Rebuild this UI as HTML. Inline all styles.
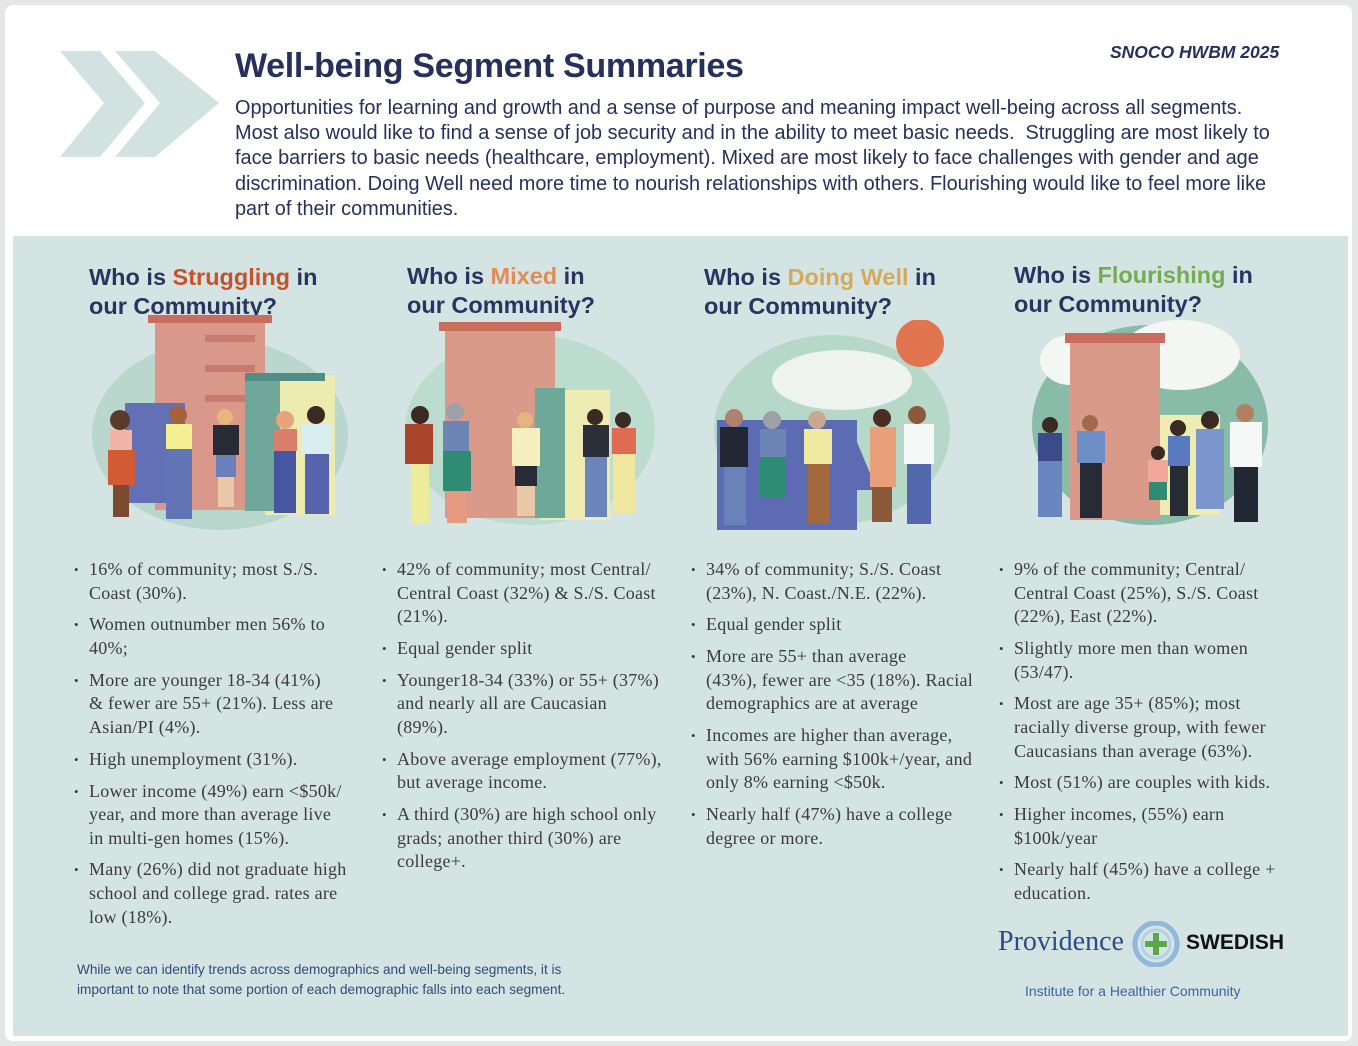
<!DOCTYPE html>
<html><head><meta charset="utf-8"><style>
*{margin:0;padding:0;box-sizing:border-box}
body{width:1358px;height:1046px;background:#e3e8e7;position:relative;overflow:hidden;font-family:"Liberation Sans",sans-serif}
.card{position:absolute;left:5px;top:5px;width:1347px;height:1036px;background:#fff;border-radius:8px}
.panel{position:absolute;left:13px;top:236px;width:1335px;height:800px;background:#d4e4e2}
.t{position:absolute;white-space:nowrap}
h1{position:absolute;left:235px;top:47px;font-size:34px;font-weight:bold;color:#25305e;letter-spacing:-0.3px}
.intro{position:absolute;left:235px;top:96px;font-size:19.9px;line-height:25.2px;color:#25305e;white-space:nowrap}
.snoco{position:absolute;left:1110px;top:42px;font-size:17.5px;font-weight:bold;font-style:italic;color:#25305e}
.h{position:absolute;font-size:23.5px;font-weight:bold;color:#2b3360;line-height:28.5px;white-space:nowrap}
ul{position:absolute;list-style:none;font-family:"Liberation Serif",serif;font-size:18px;letter-spacing:0.25px;line-height:23.6px;color:#3b3b3b}
li{position:relative;margin-bottom:8.2px;white-space:nowrap}
li:before{content:"•";position:absolute;left:-15px;font-size:13px}
.ill{position:absolute}
.foot{position:absolute;left:77px;top:960px;font-size:13.6px;line-height:20px;color:#2f4a7e;white-space:nowrap}
</style></head><body>
<div class="card"></div>
<svg style="position:absolute;left:0;top:0" width="240" height="170">
<polygon points="60,51 100,51 145,103 100,157 60,157 104,103" fill="#d2e2e1"/>
<polygon points="115,51 155,51 219,103 155,157 115,157 160,103" fill="#d2e2e1"/>
</svg>
<h1>Well-being Segment Summaries</h1>
<div class="snoco">SNOCO HWBM 2025</div>
<div class="intro">Opportunities for learning and growth and a sense of purpose and meaning impact well-being across all segments.<br>Most also would like to find a sense of job security and in the ability to meet basic needs.&nbsp; Struggling are most likely to<br>face barriers to basic needs (healthcare, employment). Mixed are most likely to face challenges with gender and age<br>discrimination. Doing Well need more time to nourish relationships with others. Flourishing would like to feel more like<br>part of their communities.</div>
<div class="panel"></div>

<div class="h" style="left:89px;top:263px">Who is <span style="color:#c9502c">Struggling</span> in<br>our Community?</div>
<div class="h" style="left:407px;top:262px">Who is <span style="color:#e58a5a">Mixed</span> in<br>our Community?</div>
<div class="h" style="left:704px;top:263px">Who is <span style="color:#d6a95b">Doing Well</span> in<br>our Community?</div>
<div class="h" style="left:1014px;top:261px">Who is <span style="color:#74ac55">Flourishing</span> in<br>our Community?</div>

<svg class="ill" style="left:80px;top:315px" width="280" height="220">
<ellipse cx="140" cy="120" rx="128" ry="95" fill="#b9d7cc"/>
<rect x="75" y="5" width="110" height="190" fill="#d9988a"/><rect x="68" y="0" width="124" height="8" fill="#c96e5e"/>
<rect x="125" y="20" width="50" height="7" fill="#c77b6c"/><rect x="125" y="50" width="50" height="7" fill="#c77b6c"/><rect x="125" y="80" width="50" height="7" fill="#c77b6c"/>
<rect x="185" y="60" width="70" height="140" fill="#ecebb0"/><rect x="165" y="58" width="80" height="8" fill="#4f8d86"/><rect x="165" y="66" width="35" height="130" fill="#6fa89b"/>
<rect x="45" y="88" width="60" height="100" fill="#6470b5"/>
<g><circle cx="40" cy="105" r="10" fill="#5a3a2a"/><rect x="30" y="115" width="22" height="22" fill="#f0b5a6"/><rect x="28" y="135" width="27" height="35" fill="#d25b33"/><rect x="33" y="170" width="16" height="32" fill="#7a4a30"/></g>
<g><circle cx="98" cy="100" r="9" fill="#a5623c"/><rect x="86" y="109" width="26" height="25" fill="#f4ef92"/><rect x="86" y="134" width="26" height="70" fill="#6175b6"/></g>
<g><circle cx="145" cy="102" r="8" fill="#e7b780"/><rect x="133" y="110" width="26" height="30" fill="#262b36"/><rect x="136" y="140" width="20" height="22" fill="#6b7fb9"/><rect x="138" y="162" width="16" height="30" fill="#eac7a7"/></g>
<g><circle cx="205" cy="105" r="9" fill="#e7a37a"/><rect x="193" y="114" width="24" height="22" fill="#d97d6c"/><rect x="194" y="136" width="22" height="62" fill="#4756a3"/></g>
<g><circle cx="236" cy="100" r="9" fill="#3b2a22"/><rect x="222" y="109" width="30" height="30" fill="#d9eef0"/><rect x="225" y="139" width="24" height="60" fill="#5564ac"/></g>
</svg>
<svg class="ill" style="left:395px;top:320px" width="265" height="215">
<ellipse cx="135" cy="110" rx="125" ry="95" fill="#bcdcd0"/>
<rect x="50" y="8" width="110" height="190" fill="#d99a8a"/><rect x="44" y="2" width="122" height="9" fill="#c96e5e"/>
<rect x="145" y="70" width="70" height="130" fill="#eeebb3"/><rect x="140" y="68" width="30" height="130" fill="#6ea898"/>
<g><circle cx="25" cy="95" r="9" fill="#3a2a22"/><rect x="10" y="104" width="28" height="40" fill="#a8442c"/><rect x="16" y="144" width="18" height="60" fill="#ecec9a"/></g>
<g><circle cx="60" cy="92" r="9" fill="#a0a0a8"/><rect x="48" y="101" width="26" height="30" fill="#6c84b4"/><rect x="48" y="131" width="28" height="40" fill="#2e8b74"/><rect x="52" y="171" width="20" height="32" fill="#e79a82"/></g>
<g><circle cx="130" cy="100" r="8" fill="#e3b580"/><rect x="117" y="108" width="28" height="38" fill="#f6f0c0"/><rect x="120" y="146" width="22" height="20" fill="#262b36"/><rect x="122" y="166" width="18" height="30" fill="#e9c8aa"/></g>
<g><circle cx="200" cy="97" r="8" fill="#3a2a22"/><rect x="188" y="105" width="26" height="32" fill="#2a2f3a"/><rect x="190" y="137" width="22" height="60" fill="#6b84bd"/></g>
<g><circle cx="228" cy="100" r="8" fill="#3a2a22"/><rect x="217" y="108" width="24" height="26" fill="#e06b55"/><rect x="218" y="134" width="22" height="60" fill="#f0e6a0"/></g>
</svg>
<svg class="ill" style="left:712px;top:320px" width="240" height="215">
<ellipse cx="120" cy="110" rx="118" ry="95" fill="#b6d8c8"/>
<ellipse cx="130" cy="60" rx="70" ry="30" fill="#eef3ef"/>
<circle cx="208" cy="23" r="24" fill="#e1754f"/>
<rect x="5" y="100" width="140" height="110" fill="#5c6bb2"/><polygon points="100,110 140,110 165,170 100,170" fill="#5c6bb2"/>
<g><circle cx="22" cy="98" r="9" fill="#b08070"/><rect x="8" y="107" width="28" height="40" fill="#222833"/><rect x="12" y="147" width="22" height="58" fill="#6982ba"/></g>
<g><circle cx="60" cy="100" r="9" fill="#a0a0a8"/><rect x="48" y="109" width="26" height="28" fill="#6c84b4"/><rect x="48" y="137" width="26" height="40" fill="#2e8b74"/></g>
<g><circle cx="105" cy="100" r="9" fill="#c8a890"/><rect x="92" y="109" width="28" height="35" fill="#f0e9a0"/><rect x="96" y="144" width="22" height="60" fill="#a3683c"/></g>
<g><circle cx="170" cy="98" r="9" fill="#4a2d20"/><rect x="158" y="107" width="26" height="60" fill="#e9a07a"/><rect x="160" y="167" width="20" height="35" fill="#8a5a3a"/></g>
<g><circle cx="205" cy="95" r="9" fill="#8a5a3a"/><rect x="192" y="104" width="30" height="40" fill="#f6f7f7"/><rect x="195" y="144" width="24" height="60" fill="#5468ad"/></g>
</svg>
<svg class="ill" style="left:1030px;top:315px" width="250" height="220">
<ellipse cx="120" cy="110" rx="118" ry="100" fill="#88bca8"/>
<ellipse cx="150" cy="40" rx="60" ry="35" fill="#f3f6f3"/><ellipse cx="40" cy="45" rx="30" ry="25" fill="#f3f6f3"/>
<rect x="40" y="25" width="90" height="180" fill="#d99a8a"/><rect x="35" y="18" width="100" height="10" fill="#c96e5e"/>
<rect x="130" y="100" width="60" height="100" fill="#eeebb3"/>
<g><circle cx="20" cy="110" r="8" fill="#3a2a22"/><rect x="8" y="118" width="24" height="28" fill="#3d4a8a"/><rect x="8" y="146" width="24" height="56" fill="#6a86c0"/></g>
<g><circle cx="60" cy="108" r="8" fill="#a06a4a"/><rect x="47" y="116" width="28" height="32" fill="#6e8ec8"/><rect x="50" y="148" width="22" height="55" fill="#262b36"/></g>
<g><circle cx="128" cy="138" r="7" fill="#3a2a22"/><rect x="118" y="145" width="20" height="22" fill="#f0a89a"/><rect x="119" y="167" width="18" height="18" fill="#2e8b74"/></g>
<g><circle cx="148" cy="113" r="8" fill="#3a2a22"/><rect x="138" y="121" width="22" height="30" fill="#5a7ac0"/><rect x="140" y="151" width="18" height="50" fill="#262b36"/></g>
<g><circle cx="180" cy="105" r="9" fill="#3a2a22"/><rect x="166" y="114" width="28" height="80" fill="#7a96cc"/></g>
<g><circle cx="215" cy="98" r="9" fill="#b08060"/><rect x="200" y="107" width="32" height="45" fill="#f6f7f7"/><rect x="204" y="152" width="24" height="55" fill="#222833"/></g>
</svg>

<ul style="left:89px;top:558px">
<li>16% of community; most S./S.<br>Coast (30%).</li>
<li>Women outnumber men 56% to<br>40%;</li>
<li>More are younger 18-34 (41%)<br>&amp; fewer are 55+ (21%). Less are<br>Asian/PI (4%).</li>
<li>High unemployment (31%).</li>
<li>Lower income (49%) earn &lt;$50k/<br>year, and more than average live<br>in multi-gen homes (15%).</li>
<li>Many (26%) did not graduate high<br>school and college grad. rates are<br>low (18%).</li>
</ul>
<ul style="left:397px;top:558px">
<li>42% of community; most Central/<br>Central Coast (32%) &amp; S./S. Coast<br>(21%).</li>
<li>Equal gender split</li>
<li>Younger18-34 (33%) or 55+ (37%)<br>and nearly all are Caucasian<br>(89%).</li>
<li>Above average employment (77%),<br>but average income.</li>
<li>A third (30%) are high school only<br>grads; another third (30%) are<br>college+.</li>
</ul>
<ul style="left:706px;top:558px">
<li>34% of community; S./S. Coast<br>(23%), N. Coast./N.E. (22%).</li>
<li>Equal gender split</li>
<li>More are 55+ than average<br>(43%), fewer are &lt;35 (18%). Racial<br>demographics are at average</li>
<li>Incomes are higher than average,<br>with 56% earning $100k+/year, and<br>only 8% earning &lt;$50k.</li>
<li>Nearly half (47%) have a college<br>degree or more.</li>
</ul>
<ul style="left:1014px;top:558px">
<li>9% of the community; Central/<br>Central Coast (25%), S./S. Coast<br>(22%), East (22%).</li>
<li>Slightly more men than women<br>(53/47).</li>
<li>Most are age 35+ (85%); most<br>racially diverse group, with fewer<br>Caucasians than average (63%).</li>
<li>Most (51%) are couples with kids.</li>
<li>Higher incomes, (55%) earn<br>$100k/year</li>
<li>Nearly half (45%) have a college +<br>education.</li>
</ul>

<div class="foot">While we can identify trends across demographics and well-being segments, it is<br>important to note that some portion of each demographic falls into each segment.</div>

<div class="t" style="left:998px;top:926px;font-family:'Liberation Serif',serif;font-size:28px;color:#2f4a8a">Providence</div>
<svg style="position:absolute;left:1132px;top:921px" width="48" height="46">
<circle cx="24" cy="23" r="21" fill="none" stroke="#8fb8da" stroke-width="5"/>
<circle cx="24" cy="23" r="14" fill="none" stroke="#b6d0e6" stroke-width="3"/>
<rect x="21" y="12" width="6" height="22" fill="#5aa84a"/><rect x="13" y="20" width="22" height="6" fill="#5aa84a"/>
</svg>
<div class="t" style="left:1186px;top:931px;font-size:21px;font-weight:bold;color:#111">SWEDISH</div>
<div class="t" style="left:1025px;top:983px;font-size:14px;color:#3d63a3">Institute for a Healthier Community</div>
</body></html>
